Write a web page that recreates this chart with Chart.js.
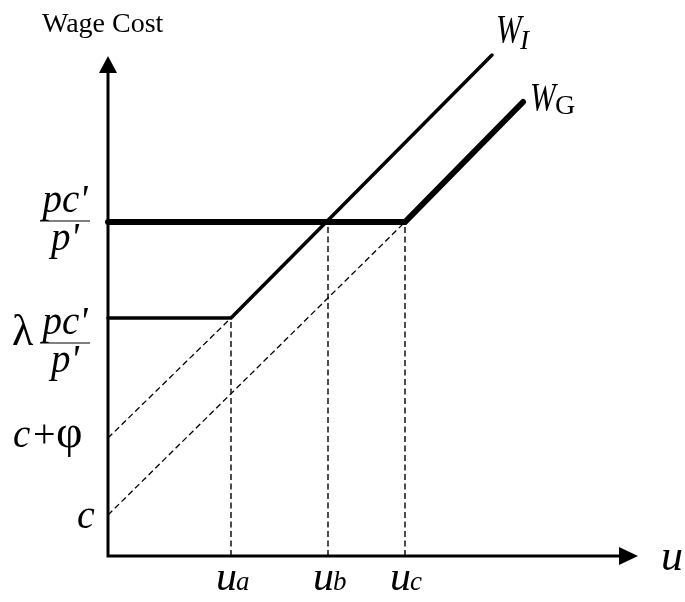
<!DOCTYPE html>
<html>
<head>
<meta charset="utf-8">
<script src="https://cdn.jsdelivr.net/npm/chart.js@4"></script>
<style>
  html, body { margin: 0; padding: 0; background: #fff; }
  #wrap { width: 685px; height: 602px; }
</style>
</head>
<body>
<div id="wrap"><canvas id="c" width="685" height="602"></canvas></div>
<script>
// ---- data ----
const yAxisTitle = 'Wage Cost';
const xAxisTitle = 'u';
const uNames = ['a', 'b', 'c'];              // subscripts of u_a, u_b, u_c
const uValues = [12.3, 22.0, 29.7];          // u_a, u_b, u_c
const dropTops = [23.8, 33.4, 33.4];         // top of the dashed drop lines
const levelC = 4.1;                          // c
const levelCphi = 11.8;                      // c + φ
const levelLam = 23.8;                       // λ pc'/p'
const levelPcp = 33.4;                       // pc'/p'
const wIx = [0, 12.3, 38.4];
const wIy = [23.8, 23.8, 50.1];
const wGx = [0, 29.7, 41.5];
const wGy = [33.4, 33.4, 45.4];
const guideIx = [0, 12.3];
const guideIy = [11.8, 23.8];
const guideGx = [0, 29.7];
const guideGy = [4.1, 33.4];
const xMax = 53, yMax = 50;

const pts = (xs, ys) => xs.map((x, i) => ({ x, y: ys[i] }));
const dash = [6, 3.5];

const datasets = [];
uValues.forEach((u, i) => {
  datasets.push({ data: pts([u, u], [0, dropTops[i]]), borderColor: '#000', borderWidth: 1.4, borderDash: dash });
});
datasets.push({ data: pts(guideIx, guideIy), borderColor: '#000', borderWidth: 1.3, borderDash: dash });
datasets.push({ data: pts(guideGx, guideGy), borderColor: '#000', borderWidth: 1.3, borderDash: dash });
datasets.push({ data: pts(wIx, wIy), borderColor: '#000', borderWidth: 3.5, borderCapStyle: 'round', borderJoinStyle: 'miter' });
datasets.push({ data: pts(wGx, wGy), borderColor: '#000', borderWidth: 6, borderCapStyle: 'round', borderJoinStyle: 'miter' });
datasets.forEach(d => { d.showLine = true; d.pointRadius = 0; d.pointHoverRadius = 0; d.clip = false; d.fill = false; });

const SERIF = '"Liberation Serif", "Times New Roman", serif';
function txt(ctx, s, x, y, size, italic, sx, align) {
  ctx.save();
  ctx.font = (italic ? 'italic ' : '') + size + 'px ' + SERIF;
  ctx.fillStyle = '#000';
  ctx.textBaseline = 'alphabetic';
  ctx.textAlign = align || 'left';
  ctx.translate(x, y);
  ctx.scale(sx || 1, 1);
  ctx.fillText(s, 0, 0);
  ctx.restore();
}
function fraction(ctx, cx, barY) {
  ctx.save();
  ctx.strokeStyle = '#000';
  ctx.lineWidth = 1.2;
  ctx.beginPath();
  ctx.moveTo(cx - 25, barY);
  ctx.lineTo(cx + 25, barY);
  ctx.stroke();
  ctx.restore();
  txt(ctx, "pc'", cx, barY - 9, 39, true, 1, 'center');
  txt(ctx, "p'", cx, barY + 29, 39, true, 1, 'center');
}

const axesPlugin = {
  id: 'axesPlugin',
  beforeDatasetsDraw(chart) {
    const ctx = chart.ctx;
    const xs = chart.scales.x, ys = chart.scales.y;
    const x0 = xs.getPixelForValue(0), y0 = ys.getPixelForValue(0);
    const xTip = xs.getPixelForValue(xMax), yTip = ys.getPixelForValue(yMax);
    ctx.save();
    ctx.strokeStyle = '#000';
    ctx.fillStyle = '#000';
    ctx.lineWidth = 3;
    ctx.lineJoin = 'miter';
    ctx.beginPath();
    ctx.moveTo(x0, yTip + 17);
    ctx.lineTo(x0, y0);
    ctx.lineTo(xTip - 19, y0);
    ctx.stroke();
    // arrow heads
    ctx.beginPath();
    ctx.moveTo(x0, yTip);
    ctx.lineTo(x0 - 9, yTip + 17);
    ctx.lineTo(x0 + 9, yTip + 17);
    ctx.closePath();
    ctx.fill();
    ctx.beginPath();
    ctx.moveTo(xTip, y0);
    ctx.lineTo(xTip - 19, y0 - 9);
    ctx.lineTo(xTip - 19, y0 + 9);
    ctx.closePath();
    ctx.fill();
    ctx.restore();
  },
  afterDatasetsDraw(chart) {
    const ctx = chart.ctx;
    const xs = chart.scales.x, ys = chart.scales.y;
    const x0 = xs.getPixelForValue(0), y0 = ys.getPixelForValue(0);
    // titles
    txt(ctx, yAxisTitle, 42, 32, 28, false);
    txt(ctx, xAxisTitle, 661, y0 + 14, 44, true);
    // y labels
    fraction(ctx, x0 - 43, ys.getPixelForValue(levelPcp) - 1);
    const yl = ys.getPixelForValue(levelLam);
    fraction(ctx, x0 - 43, yl + 25);
    txt(ctx, '\u03BB', 12, yl + 27, 44, false);
    const yc = ys.getPixelForValue(levelCphi);
    txt(ctx, 'c', x0 - 95, yc + 9, 39, true);
    txt(ctx, '+', x0 - 75, yc + 9, 40, false);
    txt(ctx, '\u03C6', x0 - 52, yc + 9, 46, false);
    txt(ctx, 'c', x0 - 31, ys.getPixelForValue(levelC) + 13, 40, true);
    // u labels
    uValues.forEach((u, i) => {
      const px = xs.getPixelForValue(u);
      txt(ctx, 'u', px - 15, y0 + 34, 42, true);
      txt(ctx, uNames[i], px + 5, y0 + 34, 27, true);
    });
    // line labels
    txt(ctx, 'W', 496, 42, 41, true, 0.75);
    txt(ctx, 'I', 520, 49, 27, true);
    txt(ctx, 'W', 530, 110, 41, true, 0.75);
    txt(ctx, 'G', 555, 114, 28, false);
  }
};

new Chart(document.getElementById('c'), {
  type: 'scatter',
  data: { datasets },
  options: {
    responsive: false,
    animation: false,
    events: [],
    layout: { padding: { left: 108, right: 47, top: 56, bottom: 46 } },
    plugins: { legend: { display: false }, tooltip: { enabled: false } },
    scales: {
      x: { type: 'linear', display: false, min: 0, max: xMax },
      y: { type: 'linear', display: false, min: 0, max: yMax }
    }
  },
  plugins: [axesPlugin]
});
</script>
</body>
</html>
